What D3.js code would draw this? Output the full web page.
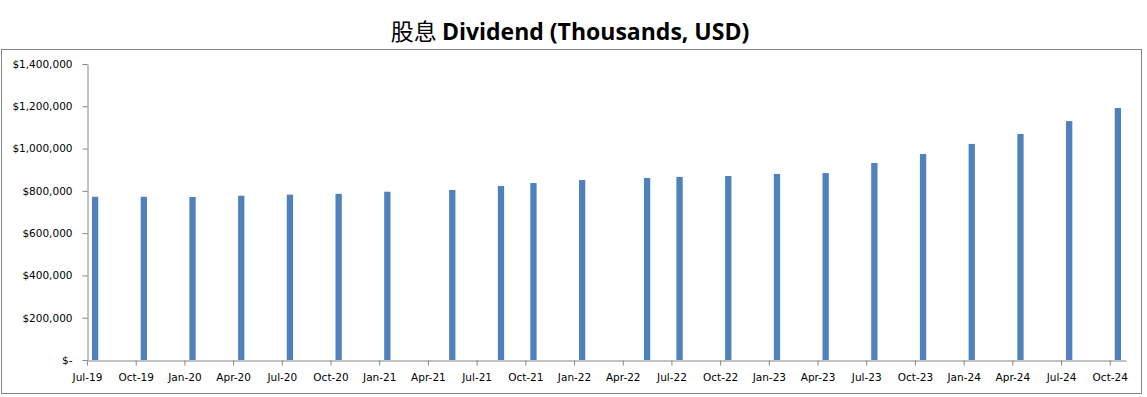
<!DOCTYPE html>
<html>
<head>
<meta charset="utf-8">
<script src="https://cdn.jsdelivr.net/npm/d3@7"></script>
<style>
  html, body { margin: 0; padding: 0; background: #fff; }
  svg { display: block; }
</style>
</head>
<body>
<svg id="chart" width="1147" height="397"></svg>
<script>
// ---- data ----
const barMonths = ["2019-07","2019-10","2020-01","2020-04","2020-07","2020-10","2021-01","2021-05","2021-08","2021-10","2022-01","2022-05","2022-07","2022-10","2023-01","2023-04","2023-07","2023-10","2024-01","2024-04","2024-07","2024-10"];
const dividends = [772000,772000,771000,777000,782000,786000,796000,804000,823000,837000,851000,861000,866000,870000,880000,884000,932000,974000,1022000,1069000,1130000,1192000];
const tickLabels = ["Jul-19","Oct-19","Jan-20","Apr-20","Jul-20","Oct-20","Jan-21","Apr-21","Jul-21","Oct-21","Jan-22","Apr-22","Jul-22","Oct-22","Jan-23","Apr-23","Jul-23","Oct-23","Jan-24","Apr-24","Jul-24","Oct-24"];
const yTicks = [0,200000,400000,600000,800000,1000000,1200000,1400000];
const titleText = "股息 Dividend (Thousands, USD)";

(function () {
// ---- layout ----
const svg = d3.select("#chart");
const pLeft = 87, pRight = 1126, pTop = 64, pBottom = 360;
const startYear = 2019, startMonth = 7, nMonths = 64;
const monthIndex = s => { const [yy, mm] = s.split("-").map(Number); return (yy - startYear) * 12 + (mm - startMonth); };

const x = d3.scaleLinear().domain([0, nMonths]).range([pLeft, pRight]);
const y = d3.scaleLinear().domain([0, 1400000]).range([pBottom, pTop]);

// border
svg.append("rect").attr("x", 1.5).attr("y", 49.5).attr("width", 1140).attr("height", 344)
  .attr("fill", "#fff").attr("stroke", "#868686").attr("stroke-width", 1);

// title
const parts = [[titleText.slice(0, 3), "400", "'Noto Sans CJK SC'"], [titleText.slice(3), "700", "'Open Sans'"]];
svg.append("text").attr("x", 570).attr("y", 40).attr("text-anchor", "middle")
  .style("font-size", "23px").attr("fill", "#000")
  .selectAll("tspan").data(parts)
  .join("tspan").text(d => d[0]).style("font-weight", d => d[1]).style("font-family", d => d[2] + ",sans-serif");

// bars
const barW = 6.3;
svg.append("g").selectAll("rect").data(barMonths.map((m, i) => ({ m, v: dividends[i] })))
  .join("rect")
  .attr("x", d => x(monthIndex(d.m) + 0.5) - barW / 2)
  .attr("width", barW)
  .attr("y", d => y(d.v))
  .attr("height", d => y(0) - y(d.v))
  .attr("fill", "#4F81BD");

// axes
const fontFam = "'DejaVu Sans', Verdana, sans-serif";
const yAxis = d3.axisLeft(y).tickValues(yTicks).tickSize(5).tickSizeOuter(0)
  .tickFormat(v => v === 0 ? "$-" : "$" + d3.format(",")(v));
const gy = svg.append("g").attr("transform", `translate(${pLeft + 0.5},0)`).call(yAxis);
gy.selectAll("text").attr("x", -15).style("font-family", fontFam).style("font-size", "10.5px").attr("fill", "#000");

const xAxis = d3.axisBottom(x).tickValues(tickLabels.map((_, i) => i * 3)).tickSize(5).tickSizeOuter(0)
  .tickFormat((d, i) => tickLabels[i]);
const gx = svg.append("g").attr("transform", `translate(0,${pBottom + 0.5})`).call(xAxis);
gx.selectAll("text").attr("y", 13).style("font-family", fontFam).style("font-size", "10.5px").attr("fill", "#000");

[gx, gy].forEach(g => {
  g.select(".domain").attr("stroke", "#868686");
  g.selectAll(".tick line").attr("stroke", "#868686");
});
})();
</script>
</body>
</html>
